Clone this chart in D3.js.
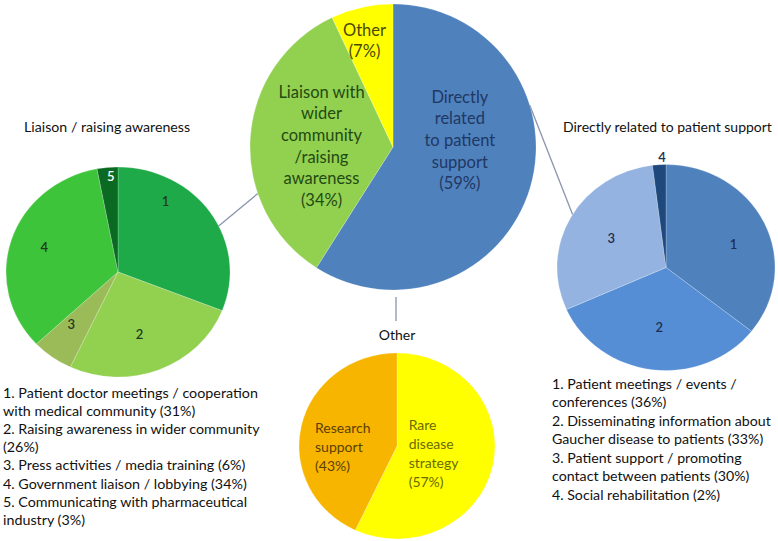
<!DOCTYPE html>
<html><head><meta charset="utf-8">
<script src="https://cdn.jsdelivr.net/npm/d3@7"></script>
<style>
html,body{margin:0;padding:0;background:#fff;}
svg{display:block;font-family:Lato,"Open Sans",sans-serif;}
</style></head>
<body><svg id="chart" width="778" height="541"></svg>
<script>
// ---------- DATA ----------
const mainCategories = ["Directly related to patient support", "Liaison with wider community /raising awareness", "Other"];
const mainValues = [59, 34, 7];
const mainLabelLines = [
  ["Directly", "related", "to patient", "support", "(59%)"],
  ["Liaison with", "wider", "community", "/raising", "awareness", "(34%)"],
  ["Other", "(7%)"]
];

const liaisonTitle = "Liaison / raising awareness";
const liaisonCategories = ["1", "2", "3", "4", "5"];
const liaisonValues = [31, 26, 6, 34, 3];
const liaisonLegend = [
  "1. Patient doctor meetings / cooperation",
  "with medical community (31%)",
  "2. Raising awareness in wider community",
  "(26%)",
  "3. Press activities / media training (6%)",
  "4. Government liaison / lobbying (34%)",
  "5. Communicating with pharmaceutical",
  "industry (3%)"
];

const supportTitle = "Directly related to patient support";
const supportCategories = ["1", "2", "3", "4"];
const supportValues = [36, 33, 30, 2];
const supportLegend = [
  "1. Patient meetings / events /",
  "conferences (36%)",
  "2. Disseminating information about",
  "Gaucher disease to patients (33%)",
  "3. Patient support / promoting",
  "contact between patients (30%)",
  "4. Social rehabilitation (2%)"
];

const otherTitle = "Other";
const otherCategories = ["Rare disease strategy", "Research support"];
const otherValues = [57, 43];
const otherLabelLines = [
  ["Rare", "disease", "strategy", "(57%)"],
  ["Research", "support", "(43%)"]
];

// ---------- DRAW ----------
const svg = d3.select("#chart");
const deg = Math.PI / 180;

function pt(p, angleDeg, rf) {
  const a = angleDeg * deg;
  return [p.cx + Math.sin(a) * p.rx * rf, p.cy - Math.cos(a) * p.ry * rf];
}

function drawPie(p, values, colors) {
  const arcs = d3.pie().sort(null).value(d => d)(values);
  const g = svg.append("g")
    .attr("transform", `translate(${p.cx},${p.cy}) scale(${p.rx / p.ry},1)`);
  g.selectAll("path").data(arcs).join("path")
    .attr("d", d3.arc().innerRadius(0).outerRadius(p.ry))
    .attr("fill", (d, i) => colors[i])
    .attr("stroke", "rgba(255,255,255,0.35)")
    .attr("stroke-width", 0.6);
  return arcs;
}

const mainPie = {cx: 393, cy: 147, rx: 143, ry: 143};
const leftPie = {cx: 118, cy: 272, rx: 112, ry: 105};
const rightPie = {cx: 666, cy: 267.5, rx: 109, ry: 103};
const botPie = {cx: 397, cy: 446, rx: 98, ry: 93};

// connectors
const lineColor = "#8a94ad";
function connector(a, angA, b, angB) {
  const p1 = pt(a, angA, 1), p2 = pt(b, angB, 1);
  svg.append("line").attr("x1", p1[0]).attr("y1", p1[1]).attr("x2", p2[0]).attr("y2", p2[1])
    .attr("stroke", lineColor).attr("stroke-width", 1.3);
}
connector(mainPie, 251, leftPie, 64);
connector(mainPie, 73, rightPie, 301);
svg.append("line")
  .attr("x1", mainPie.cx + 3).attr("x2", mainPie.cx + 3)
  .attr("y1", mainPie.cy + mainPie.ry + 7).attr("y2", mainPie.cy + mainPie.ry + 31)
  .attr("stroke", lineColor).attr("stroke-width", 1.3);

// main pie
const mainArcs = drawPie(mainPie, mainValues, ["#4f81bd", "#92d050", "#ffff00"]);
const mainTextColors = ["#1f3864", "#234a12", "#4a4a00"];
const mainLabelPos = [ [84, 0.47], [271, 0.5], [345, 0.77] ];
mainArcs.forEach((a, i) => {
  const [x, y] = pt(mainPie, mainLabelPos[i][0], mainLabelPos[i][1]);
  const lines = mainLabelLines[i];
  const lh = 21.6;
  const t = svg.append("text").attr("text-anchor", "middle")
    .attr("font-size", 16.5).attr("fill", mainTextColors[i]);
  lines.forEach((s, j) => {
    t.append("tspan").attr("x", x).attr("y", y + (j - (lines.length - 1) / 2) * lh + 6).text(s);
  });
});

// left pie
const leftArcs = drawPie(leftPie, liaisonValues, ["#1faa4a", "#92d050", "#9bbb59", "#3ec43a", "#0b6a22"]);
const leftLabelPos = [[32, 0.8], [162, 0.62], [220, 0.65], [290, 0.7], [356, 0.92]];
leftArcs.forEach((a, i) => {
  const [x, y] = pt(leftPie, leftLabelPos[i][0], leftLabelPos[i][1]);
  svg.append("text").attr("x", x).attr("y", y + 5).attr("text-anchor", "middle")
    .attr("font-size", 13).attr("font-weight", 600)
    .attr("fill", i === 4 ? "#ffffff" : "#1f3a1f").text(liaisonCategories[i]);
});
svg.append("text").attr("x", 24).attr("y", 132).attr("font-size", 14.2).attr("fill", "#111")
  .text(liaisonTitle);

// right pie
const rightArcs = drawPie(rightPie, supportValues, ["#4f81bd", "#558ed5", "#95b3e0", "#1f497d"]);
const rightLabelPos = [[70, 0.66], [186, 0.58], [300, 0.58], [358, 1.07]];
rightArcs.forEach((a, i) => {
  const [x, y] = pt(rightPie, rightLabelPos[i][0], rightLabelPos[i][1]);
  svg.append("text").attr("x", x).attr("y", y + 5).attr("text-anchor", "middle")
    .attr("font-size", 13).attr("font-weight", 600)
    .attr("fill", "#1f2f4f").text(supportCategories[i]);
});
svg.append("text").attr("x", 563).attr("y", 132).attr("font-size", 14).attr("fill", "#111")
  .text(supportTitle);

// bottom pie
const botArcs = drawPie(botPie, otherValues, ["#ffff00", "#f7b500"]);
const botTextColors = ["#6b6b00", "#5c4000"];
const botLabelPos = [[103, 0.3], [270, 0.52]];
botArcs.forEach((a, i) => {
  const [x, y] = pt(botPie, botLabelPos[i][0], botLabelPos[i][1]);
  const lines = otherLabelLines[i];
  const lh = 19;
  const t = svg.append("text").attr("font-size", 14).attr("fill", botTextColors[i]);
  lines.forEach((s, j) => {
    t.append("tspan").attr("x", i === 0 ? x - 17 : x - 31)
      .attr("y", y + (j - (lines.length - 1) / 2) * lh + 6).text(s);
  });
});
svg.append("text").attr("x", botPie.cx).attr("y", 340).attr("text-anchor", "middle")
  .attr("font-size", 14).attr("fill", "#111").text(otherTitle);

// legends
function legend(lines, x, y0, lh, fs) {
  const t = svg.append("text").attr("font-size", fs).attr("fill", "#111");
  lines.forEach((s, j) => t.append("tspan").attr("x", x).attr("y", y0 + j * lh).text(s));
}
legend(liaisonLegend, 3, 398, 18.1, 14.3);
legend(supportLegend, 552, 388.5, 18.5, 14.2);
</script>
</body></html>
